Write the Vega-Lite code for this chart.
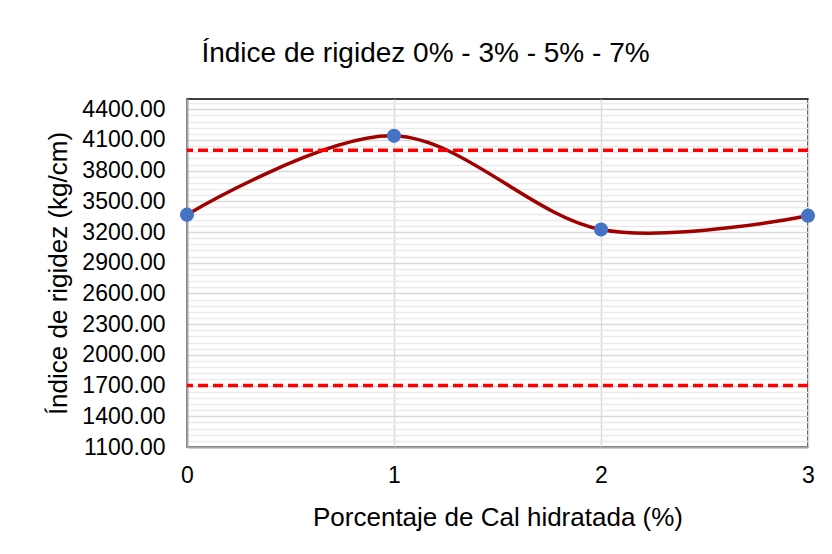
{
  "$schema": "https://vega.github.io/schema/vega-lite/v6.json",
  "autosize": "none",
  "width": 621,
  "height": 348,
  "padding": {"left": 187, "top": 99, "right": 24, "bottom": 107},
  "background": "white",
  "title": {
    "text": "Índice de rigidez 0% - 3% - 5% - 7%",
    "fontSize": 28,
    "font": "Liberation Sans",
    "fontWeight": "normal",
    "color": "#000000",
    "anchor": "middle",
    "frame": "group",
    "dx": -72,
    "offset": 30
  },
  "datasets": {
    "ensayo": [
      {"porcentaje": 0, "indice": 3370},
      {"porcentaje": 1, "indice": 4140},
      {"porcentaje": 2, "indice": 3225},
      {"porcentaje": 3, "indice": 3360}
    ],
    "limites": [
      {"limite": 4000},
      {"limite": 1700}
    ]
  },
  "layer": [
    {
      "data": {"name": "ensayo"},
      "mark": {"type": "line", "color": "#a00000", "strokeWidth": 3.5, "interpolate": "cardinal"},
      "encoding": {
        "x": {
          "field": "porcentaje", "type": "quantitative",
          "scale": {"domain": [0, 3], "nice": false},
          "axis": {
            "title": "Porcentaje de Cal hidratada (%)",
            "values": [0, 1, 2, 3],
            "format": "d",
            "labelFlush": false,
            "grid": true, "gridColor": "#d9d9d9", "gridWidth": 1.5,
            "domain": true, "domainColor": "#a6a6a6", "domainWidth": 2,
            "ticks": false,
            "labelFontSize": 23, "labelColor": "#000000", "labelPadding": 17,
            "labelFont": "Liberation Sans",
            "titleFontSize": 26, "titleFontWeight": "normal", "titleColor": "#000000",
            "titleFont": "Liberation Sans", "titlePadding": 17
          }
        },
        "y": {
          "field": "indice", "type": "quantitative",
          "scale": {"domain": [1100, 4500], "nice": false, "zero": false},
          "axis": {
            "orient": "left",
            "title": "Índice de rigidez (kg/cm)",
            "values": [1100, 1400, 1700, 2000, 2300, 2600, 2900, 3200, 3500, 3800, 4100, 4400],
            "format": ".2f",
            "grid": true, "gridColor": "#d9d9d9", "gridWidth": 1.5,
            "domain": true, "domainColor": "#a6a6a6", "domainWidth": 2,
            "ticks": false,
            "labelFontSize": 23, "labelColor": "#000000", "labelPadding": 22,
            "labelFont": "Liberation Sans",
            "titleFontSize": 26, "titleFontWeight": "normal", "titleColor": "#000000",
            "titleFont": "Liberation Sans", "titlePadding": 10
          }
        }
      }
    },
    {
      "data": {"name": "limites"},
      "mark": {"type": "rule", "color": "#ff0000", "strokeWidth": 3.5, "strokeDash": [10, 5]},
      "encoding": {
        "y": {
          "field": "limite", "type": "quantitative",
          "axis": {
            "orient": "left",
            "values": [1160, 1220, 1280, 1340, 1460, 1520, 1580, 1640, 1760, 1820, 1880, 1940, 2060, 2120, 2180, 2240, 2360, 2420, 2480, 2540, 2660, 2720, 2780, 2840, 2960, 3020, 3080, 3140, 3260, 3320, 3380, 3440, 3560, 3620, 3680, 3740, 3860, 3920, 3980, 4040, 4160, 4220, 4280, 4340, 4460],
            "grid": true, "gridColor": "#ebebeb", "gridWidth": 1.5,
            "labels": false, "ticks": false, "domain": false, "title": null
          }
        }
      }
    },
    {
      "data": {"name": "ensayo"},
      "mark": {"type": "point", "filled": true, "size": 200, "color": "#4472c4", "opacity": 1},
      "encoding": {
        "x": {"field": "porcentaje", "type": "quantitative"},
        "y": {"field": "indice", "type": "quantitative", "axis": null}
      }
    }
  ],
  "resolve": {"axis": {"y": "independent"}},
  "config": {
    "view": {"stroke": "#000000", "strokeWidth": 1.5},
    "font": "Liberation Sans"
  }
}
